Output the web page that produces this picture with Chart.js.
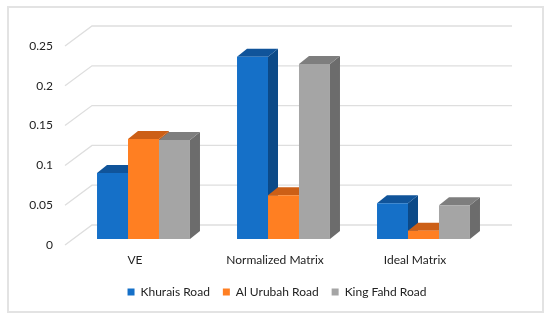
<!DOCTYPE html>
<html lang="en">
<head>
    <meta charset="UTF-8">
    <title>Road comparison</title>
    <script src="https://cdn.jsdelivr.net/npm/chart.js"></script>
    <style>
        html, body { margin: 0; background: #fff; }
        #wrap { position: relative; width: 550px; height: 320px; }
        #frame { position: absolute; left: 7px; top: 6px; width: 533px; height: 303px; border: 2px solid #e3e3e3; }
        canvas { position: absolute; left: 0; top: 0; }
    </style>
</head>
<body>
    <div id="wrap">
        <div id="frame"></div>
        <canvas id="chart" width="550" height="320"></canvas>
    </div>

    <script>
        // Values
        const categories = ['VE', 'Normalized Matrix', 'Ideal Matrix'];
        const seriesNames = ['Khurais Road', 'Al Urubah Road', 'King Fahd Road'];
        const khurais = [0.083, 0.229, 0.045];
        const alUrubah = [0.1255, 0.055, 0.0105];
        const kingFahd = [0.1245, 0.22, 0.0425];
        const tickLabels = [0, 0.05, 0.1, 0.15, 0.2, 0.25];

        const frontColors = ['#1570c8', '#ff7f22', '#a5a5a5'];
        const topColors = ['#10549a', '#cc5f16', '#7e7e7e'];
        const sideColors = ['#0c4a88', '#c25a14', '#6c6c6c'];

        // 3D look
        const wallDx = 27, wallDy = -20;   // front plane to back wall
        const barDx = 8.5, barDy = -6;     // front plane to bar plane
        const depthX = 10, depthY = -8;    // depth of a bar

        function face(ctx, color, points) {
            ctx.fillStyle = color;
            ctx.beginPath();
            points.forEach(([x, y], i) => i ? ctx.lineTo(x, y) : ctx.moveTo(x, y));
            ctx.closePath();
            ctx.fill();
        }

        const walls = {
            id: 'walls',
            beforeDatasetsDraw(chart) {
                const { ctx, chartArea: a, scales: { y } } = chart;
                ctx.save();
                ctx.strokeStyle = '#dedede';
                ctx.lineWidth = 1.3;
                tickLabels.forEach(v => {
                    const py = y.getPixelForValue(v);
                    ctx.beginPath();
                    ctx.moveTo(a.left, py);
                    ctx.lineTo(a.left + wallDx, py + wallDy);
                    ctx.lineTo(a.right + wallDx, py + wallDy);
                    ctx.stroke();
                });
                ctx.restore();
            }
        };

        const bars3d = {
            id: 'bars3d',
            beforeDatasetsDraw(chart) {
                const ctx = chart.ctx;
                ctx.save();
                ctx.translate(barDx, barDy);
                // side and top faces first, left to right, fronts go over them
                for (let c = 0; c < categories.length; c++) {
                    chart.data.datasets.forEach((ds, s) => {
                        const bar = chart.getDatasetMeta(s).data[c];
                        const l = bar.x - bar.width / 2, r = bar.x + bar.width / 2;
                        face(ctx, sideColors[s], [[r, bar.y], [r + depthX, bar.y + depthY], [r + depthX, bar.base + depthY], [r, bar.base]]);
                        face(ctx, topColors[s], [[l, bar.y], [l + depthX, bar.y + depthY], [r + depthX, bar.y + depthY], [r, bar.y]]);
                    });
                }
            },
            afterDatasetsDraw(chart) {
                chart.ctx.restore();
            }
        };

        new Chart(document.getElementById('chart').getContext('2d'), {
            type: 'bar',
            data: {
                labels: categories,
                datasets: [khurais, alUrubah, kingFahd].map((values, i) => ({
                    label: seriesNames[i],
                    data: values,
                    backgroundColor: frontColors[i],
                    barPercentage: 1,
                    categoryPercentage: 0.664,
                    clip: false
                }))
            },
            options: {
                responsive: false,
                animation: false,
                layout: { padding: { top: 46, left: 4, bottom: 12 } },
                plugins: {
                    tooltip: { enabled: false },
                    legend: {
                        position: 'bottom',
                        labels: {
                            boxWidth: 7,
                            boxHeight: 7,
                            padding: 13,
                            color: '#222',
                            font: { family: 'Lato', size: 12 }
                        }
                    }
                },
                scales: {
                    x: {
                        afterFit: s => { s.height = 28; },
                        grid: { display: false },
                        border: { display: false },
                        ticks: { color: '#222', padding: 0, maxRotation: 0, font: { family: 'Lato', size: 12 } }
                    },
                    y: {
                        min: 0,
                        max: 0.25,
                        afterFit: s => { s.width = 61; },
                        afterBuildTicks: s => { s.ticks = tickLabels.map(value => ({ value })); },
                        grid: { display: false },
                        border: { display: false },
                        ticks: { color: '#222', padding: 4, font: { family: 'Lato', size: 12 }, callback: v => String(v) }
                    },
                    // empty axis, keeps the space right of the plot so the legend stays centred on the page
                    spacer: {
                        position: 'right',
                        afterFit: s => { s.width = 65; },
                        grid: { display: false },
                        border: { display: false },
                        ticks: { display: false }
                    }
                }
            },
            plugins: [walls, bars3d]
        });
    </script>
</body>
</html>
